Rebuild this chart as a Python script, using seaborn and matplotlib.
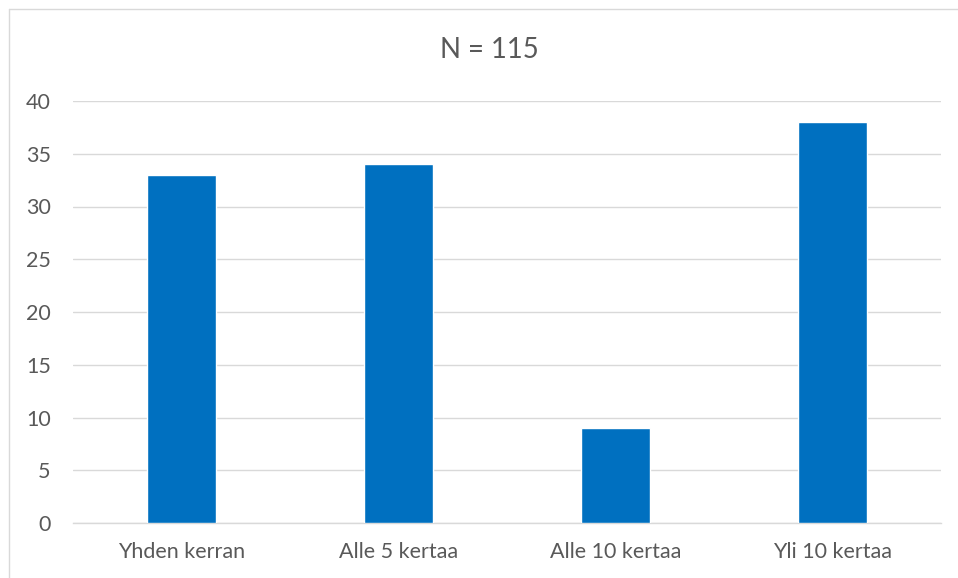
import matplotlib
matplotlib.use("Agg")
import matplotlib.pyplot as plt
from matplotlib.lines import Line2D
import seaborn as sns
import pandas as pd

categories = ["Yhden kerran", "Alle 5 kertaa", "Alle 10 kertaa", "Yli 10 kertaa"]
counts = [33, 34, 9, 38]
y_ticks = [0, 5, 10, 15, 20, 25, 30, 35, 40]
title = "N = 115"

sns.set_theme(style="white")
plt.rcParams["font.family"] = ["Lato", "DejaVu Sans"]

W, H = 958, 578
fig = plt.figure(figsize=(W / 100, H / 100), dpi=100)
fig.patch.set_facecolor("white")

# chart area frame (top and left edges visible)
frame_color = "#d9d9d9"
fig.add_artist(Line2D([9 / W, 1.0], [1 - 9 / H, 1 - 9 / H], transform=fig.transFigure,
                      color=frame_color, lw=1.0))
fig.add_artist(Line2D([9 / W, 9 / W], [0.0, 1 - 9 / H], transform=fig.transFigure,
                      color=frame_color, lw=1.0))

left, right, top, bottom = 73, 941, 101, 523
ax = fig.add_axes([left / W, 1 - bottom / H, (right - left) / W, (bottom - top) / H])

df = pd.DataFrame({"category": categories, "count": counts})
sns.barplot(data=df, x="category", y="count", color="#0070C0", saturation=1,
            width=0.315, ax=ax, zorder=3)

ax.set_ylim(0, 40)
ax.set_xlim(-0.5, len(categories) - 0.5)
ax.set_yticks(y_ticks)
ax.yaxis.grid(True, color="#d9d9d9", lw=1.0, zorder=0)
ax.set_axisbelow(True)
for s in ["top", "right", "left"]:
    ax.spines[s].set_visible(False)
ax.spines["bottom"].set_color("#d9d9d9")
ax.spines["bottom"].set_linewidth(1.0)
ax.tick_params(axis="both", length=0, labelsize=15.5, labelcolor="#595959")
ax.tick_params(axis="y", pad=16)
ax.tick_params(axis="x", pad=14)
ax.set_xlabel("")
ax.set_ylabel("")

fig.text(489 / W, 1 - 50 / H, title, ha="center", va="center", fontsize=19.8, color="#595959")

fig.savefig("out.png", dpi=100, facecolor="white")
